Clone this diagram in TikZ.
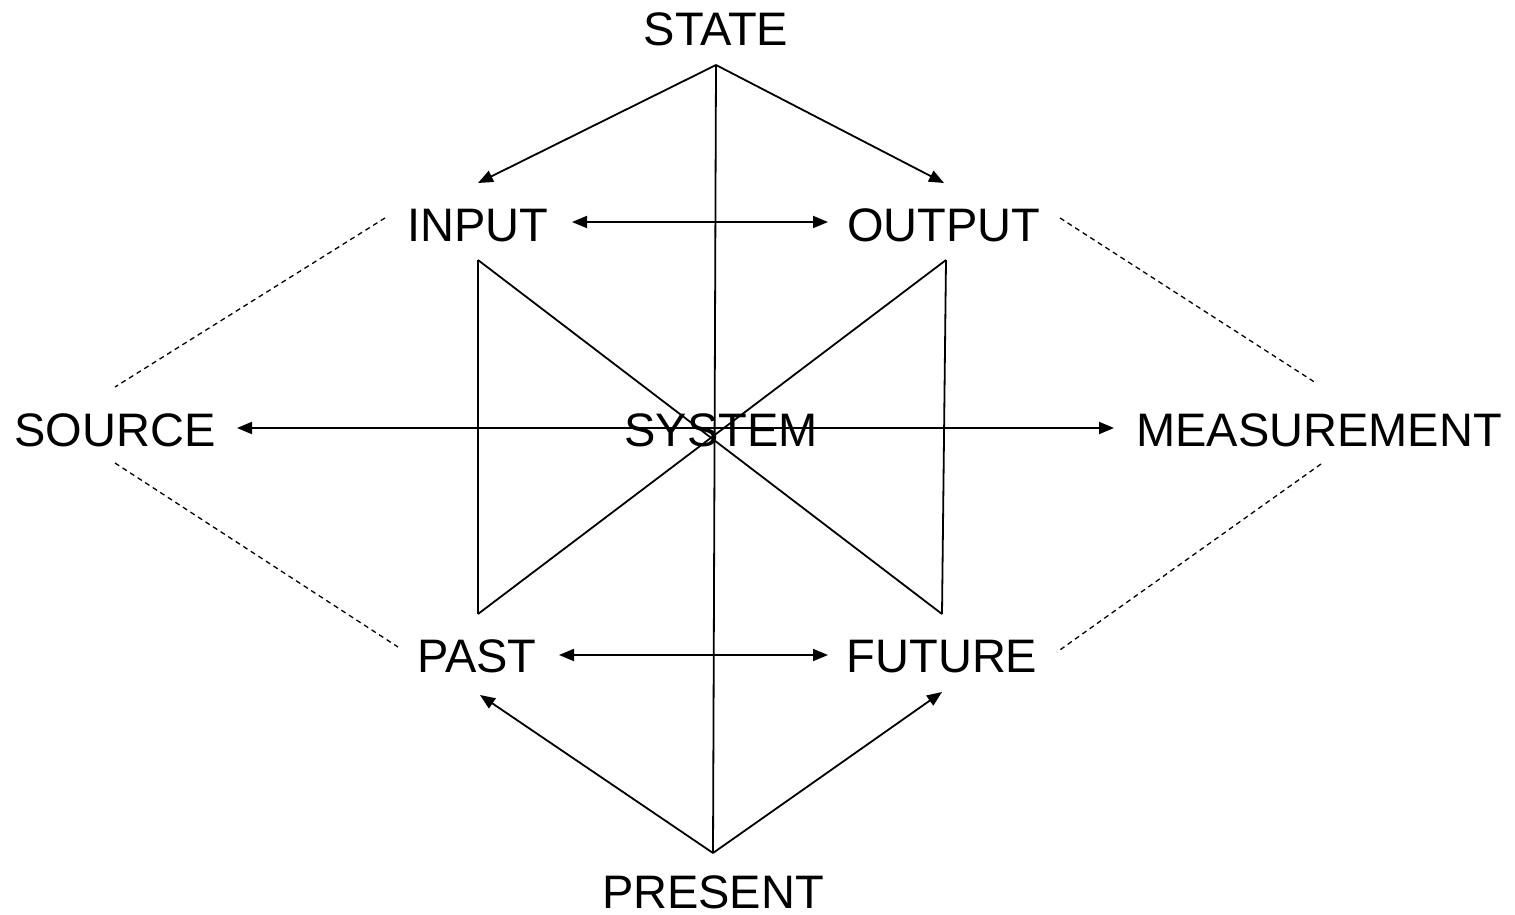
\documentclass[tikz,border=0pt]{standalone}
\usepackage{fontspec}
\setmainfont{Liberation Sans}
\usetikzlibrary{arrows.meta}
\begin{document}
\begin{tikzpicture}[x=1pt,y=-1pt,
  lbl/.style={anchor=base,inner sep=0pt,font=\fontsize{47}{56}\selectfont},
  con/.style={line width=1.8pt},
  tip/.tip={Triangle[length=15pt,width=12pt]},
  arr/.style={con,-tip},
  darr/.style={con,tip-tip},
  dsh/.style={line width=1.3pt,dash pattern=on 5pt off 4pt}]
\useasboundingbox (0,0) rectangle (1515,915);
% labels
\node[lbl] (state) at (716,46) {STATE};
\node[lbl] (input) at (478,241) {INPUT};
\node[lbl] (output) at (944,241) {OUTPUT};
\node[lbl] (source) at (115,446) {SOURCE};
\node[lbl] (system) at (721,446) {SYSTEM};
\node[lbl] (measure) at (1319,446) {MEASUREMENT};
\node[lbl] (past) at (477,672) {PAST};
\node[lbl] (future) at (942,672) {FUTURE};
\node[lbl] (present) at (713,908) {PRESENT};
% connection points
\coordinate (stP) at (716,65);
\coordinate (inT) at (478,183);
\coordinate (outT) at (944,183);
\coordinate (inR) at (572,222);
\coordinate (outL) at (828,222);
\coordinate (inB) at (478,260);
\coordinate (outB) at (946,260);
\coordinate (paT) at (478,614);
\coordinate (fuT) at (942,614);
\coordinate (srcR) at (237,428);
\coordinate (meL) at (1114,428);
\coordinate (paR) at (559,655);
\coordinate (fuL) at (828,655);
\coordinate (prP) at (713,853);
\coordinate (paB) at (480,695);
\coordinate (fuB) at (942,692);
\coordinate (inLd) at (385,218);
\coordinate (srcTd) at (115,387);
\coordinate (srcBd) at (115,463);
\coordinate (paLd) at (398,647);
\coordinate (outRd) at (1060,218);
\coordinate (meTd) at (1316,383);
\coordinate (meBd) at (1321,464);
\coordinate (fuRd) at (1057,652);
% connectors
\draw[arr] (stP) -- (inT);
\draw[arr] (stP) -- (outT);
\draw[con] (stP) -- (prP);
\draw[darr] (inR) -- (outL);
\draw[con] (inB) -- (paT);
\draw[con] (inB) -- (fuT);
\draw[con] (outB) -- (fuT);
\draw[con] (outB) -- (paT);
\draw[darr] (srcR) -- (meL);
\draw[darr] (paR) -- (fuL);
\draw[arr] (prP) -- (paB);
\draw[arr] (prP) -- (fuB);
\draw[dsh] (inLd) -- (srcTd);
\draw[dsh] (srcBd) -- (paLd);
\draw[dsh] (outRd) -- (meTd);
\draw[dsh] (meBd) -- (fuRd);
\end{tikzpicture}
\end{document}
